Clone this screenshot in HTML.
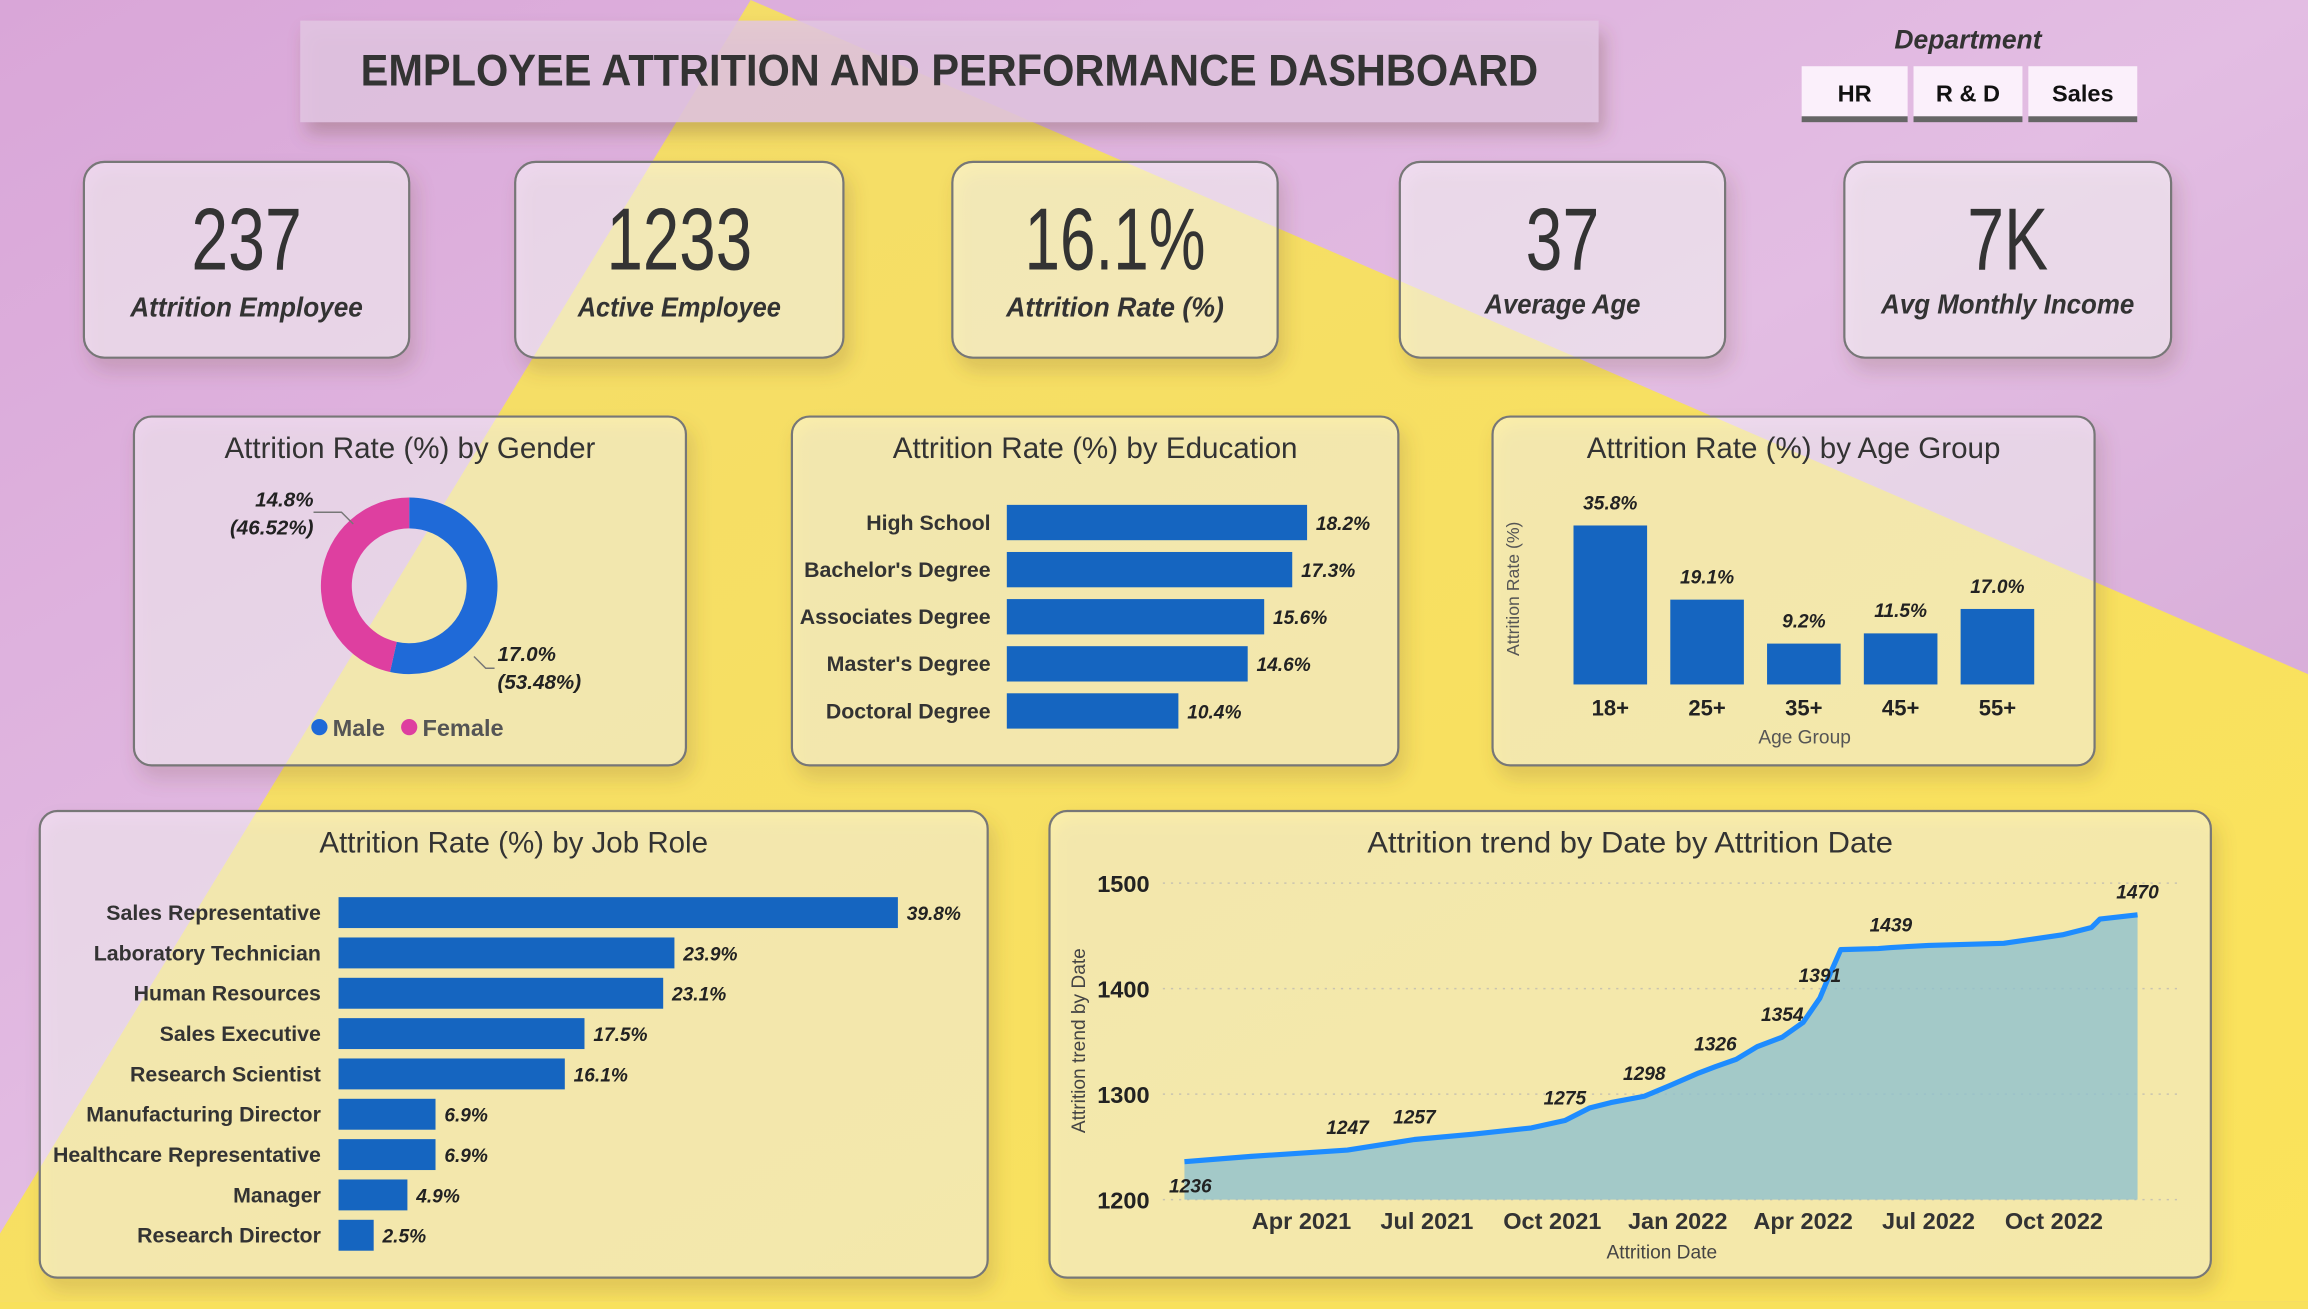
<!DOCTYPE html>
<html><head><meta charset="utf-8"><style>
html,body{margin:0;padding:0;width:2308px;height:1300px;overflow:hidden;background:#f8e15c}
#root{width:1568px;height:884px;transform:scale(1.471939);transform-origin:0 0;position:absolute;left:0;top:0}
svg text{font-family:"Liberation Sans Narrow","Liberation Sans",sans-serif}
</style></head><body>
<div id="root">
<svg id="svg" width="1568" height="884" viewBox="0 0 1568 884" xmlns="http://www.w3.org/2000/svg">
<defs>
<linearGradient id="pg" x1="0" y1="0" x2="1" y2="1"><stop offset="0" stop-color="#d9a6d8"/><stop offset="0.5" stop-color="#e3bde3"/><stop offset="1" stop-color="#cfa0d0"/></linearGradient>
<linearGradient id="yg" x1="0" y1="0" x2="1" y2="1"><stop offset="0" stop-color="#f3dc6a"/><stop offset="1" stop-color="#fbe35a"/></linearGradient>
<filter id="sh" x="-10%" y="-10%" width="130%" height="140%"><feDropShadow dx="4" dy="8" stdDeviation="6" flood-color="#6a4a30" flood-opacity="0.35"/></filter>
</defs>
<rect width="1568" height="884" fill="url(#pg)"/>
<polygon points="510,0 1568,458 1568,884 0,884 0,838" fill="url(#yg)"/>

<g>
<rect x="204" y="14" width="882" height="69" fill="#e2c6e2" fill-opacity="0.85" filter="url(#sh)"/>
<text x="645" y="58" text-anchor="middle" font-size="30" font-weight="bold" fill="#333" textLength="800" lengthAdjust="spacingAndGlyphs">EMPLOYEE ATTRITION AND PERFORMANCE DASHBOARD</text>
</g>

<g>
<text x="1337" y="33" text-anchor="middle" font-size="18" font-style="italic" font-weight="bold" fill="#333">Department</text>
<g><rect x="1224" y="45" width="72" height="37" fill="#fbf0fb"/><rect x="1224" y="79" width="72" height="4" fill="#666"/><text x="1260" y="69" text-anchor="middle" font-size="16" font-weight="bold" fill="#111">HR</text></g>
<g><rect x="1300" y="45" width="74" height="37" fill="#fbf0fb"/><rect x="1300" y="79" width="74" height="4" fill="#666"/><text x="1337" y="69" text-anchor="middle" font-size="16" font-weight="bold" fill="#111">R &amp; D</text></g>
<g><rect x="1378" y="45" width="74" height="37" fill="#fbf0fb"/><rect x="1378" y="79" width="74" height="4" fill="#666"/><text x="1415" y="69" text-anchor="middle" font-size="16" font-weight="bold" fill="#111">Sales</text></g>
</g>

<g id="kpis"></g>
<g id="cards"></g>
<g id="gender"></g>
<g id="edu"></g>
<g id="age"></g>
<g id="job"></g>
<g id="trend"></g>
</svg>
</div>
<script>
const NS='http://www.w3.org/2000/svg';
function mk(parent,tag,attrs,txt){const e=document.createElementNS(NS,tag);for(const k in attrs)e.setAttribute(k,attrs[k]);if(txt!==undefined)e.textContent=txt;parent.appendChild(e);return e;}

// KPI data
const kpiValues=['237','1233','16.1%','37','7K'];
const kpiLabels=['Attrition Employee','Active Employee','Attrition Rate (%)','Average Age','Avg Monthly Income'];
// Gender data
const genderCats=['Male','Female'];
const genderRates=[17.0,14.8];
const genderShares=[53.48,46.52];
// Education data
const eduCats=['High School',"Bachelor's Degree",'Associates Degree',"Master's Degree",'Doctoral Degree'];
const eduVals=[18.2,17.3,15.6,14.6,10.4];
// Age data
const ageCats=['18+','25+','35+','45+','55+'];
const ageVals=[35.8,19.1,9.2,11.5,17.0];
// Job role data
const jobCats=['Sales Representative','Laboratory Technician','Human Resources','Sales Executive','Research Scientist','Manufacturing Director','Healthcare Representative','Manager','Research Director'];
const jobVals=[39.8,23.9,23.1,17.5,16.1,6.9,6.9,4.9,2.5];
// Trend data (t = months since Jan 2021)
const trendT=[0.2,1.8,4.1,5.7,7.1,8.5,9.3,9.9,10.4,11.2,11.8,12.5,12.9,13.4,13.9,14.5,15.0,15.4,15.6,15.9,16.8,17.1,18,19.8,21.2,21.9,22.1,23];
const trendV=[1236,1241,1247,1257,1262,1268,1275,1287,1292,1298,1308,1320,1326,1333,1345,1354,1368,1391,1410,1437,1438,1439,1441,1443,1451,1458,1466,1470];
const trendLabelIdx=[0,2,3,6,9,12,15,17,21,27];
const trendYTicks=[1200,1300,1400,1500];
const trendXTickT=[3,6,9,12,15,18,21];
const trendXTickLabels=['Apr 2021','Jul 2021','Oct 2021','Jan 2022','Apr 2022','Jul 2022','Oct 2022'];

const kg=document.getElementById('kpis');
const kpiBox=[[57,221],[350,223],[647,221],[951,221],[1253,222]];
const kpiValW=[75,99,123,50,55];
const kpiLabW=[158,138,148,106,172];
kpiValues.forEach((v,i)=>{
  const g=mk(kg,'g',{});
  
  
  const [x,w]=kpiBox[i];
  mk(g,'rect',{x:x,y:110,width:w,height:133,rx:14,fill:'#ffffff','fill-opacity':0.5,stroke:'#777','stroke-width':1.5,filter:'url(#sh)'});
  const t=mk(g,'text',{x:x+w/2,y:183,'text-anchor':'middle','font-size':60,fill:'#333',textLength:kpiValW[i],lengthAdjust:'spacingAndGlyphs'},v);
  
  
  const l=mk(g,'text',{x:x+w/2,y:(i>=3?213:215),'text-anchor':'middle','font-size':19,'font-style':'italic','font-weight':'bold',fill:'#333',textLength:kpiLabW[i],lengthAdjust:'spacingAndGlyphs'},kpiLabels[i]);
  
  
});

const cg=document.getElementById('cards');
const cards=[['gender-card',91,283,375,237,'Attrition Rate (%) by Gender',252],['education-card',538,283,412,237,'Attrition Rate (%) by Education',275],['age-group-card',1014,283,409,237,'Attrition Rate (%) by Age Group',281],['job-role-card',27,551,644,317,'Attrition Rate (%) by Job Role',264],['trend-card',713,551,789,317,'Attrition trend by Date by Attrition Date',357]];
cards.forEach(c=>{
  const g=mk(cg,'g',{});
  
  
  mk(g,'rect',{x:c[1],y:c[2],width:c[3],height:c[4],rx:12,fill:'#ffffff','fill-opacity':0.45,stroke:'#777','stroke-width':1.5,filter:'url(#sh)'});
  const t=mk(g,'text',{x:c[1]+c[3]/2,y:c[2]+28,'text-anchor':'middle','font-size':20,fill:'#333',textLength:c[6],lengthAdjust:'spacingAndGlyphs'},c[5]);
  
  
});

(function(){
  const g=document.getElementById('gender');
  const cx=278,cy=398,R=60,r=39;
  const cols=['#1f6ad8','#de3fa0'];
  let a0=0;const tot=genderShares.reduce((a,b)=>a+b,0);
  genderShares.forEach((s,i)=>{
    const a1=a0+s/tot*Math.PI*2;
    const p=(a,rad)=>[cx+rad*Math.sin(a),cy-rad*Math.cos(a)];
    const large=(a1-a0)>Math.PI?1:0;
    const [x1,y1]=p(a0,R),[x2,y2]=p(a1,R),[x3,y3]=p(a1,r),[x4,y4]=p(a0,r);
    const e=mk(g,'path',{d:`M${x1},${y1}A${R},${R} 0 ${large} 1 ${x2},${y2}L${x3},${y3}A${r},${r} 0 ${large} 0 ${x4},${y4}Z`,fill:cols[i]});
    
    
    a0=a1;
  });
  mk(g,'polyline',{points:'213,348 232,348 240,356',fill:'none',stroke:'#777'});
  mk(g,'polyline',{points:'322,446 330,454 336,454',fill:'none',stroke:'#777'});
  const lab=(x,y,anc,t1,t2,n)=>{const t=mk(g,'text',{x:x,y:y,'text-anchor':anc,'font-size':14,'font-style':'italic','font-weight':'bold',fill:'#222'});mk(t,'tspan',{x:x,dy:0},t1);mk(t,'tspan',{x:x,dy:19},t2);};
  lab(213,344,'end',genderRates[1].toFixed(1)+'%','('+genderShares[1].toFixed(2)+'%)','female-label');
  lab(338,449,'start',genderRates[0].toFixed(1)+'%','('+genderShares[0].toFixed(2)+'%)','male-label');
  const lg=mk(g,'g',{});
  
  
  mk(lg,'circle',{cx:217,cy:494,r:5.5,fill:cols[0]});
  mk(lg,'text',{x:226,y:500,'font-size':16,'font-weight':'bold',fill:'#555'},genderCats[0]);
  mk(lg,'circle',{cx:278,cy:494,r:5.5,fill:cols[1]});
  mk(lg,'text',{x:287,y:500,'font-size':16,'font-weight':'bold',fill:'#555'},genderCats[1]);
})();

(function(){
  const g=document.getElementById('edu');
  const x0=684,k=204/18.2,yc=i=>355+i*32;
  eduCats.forEach((c,i)=>{
    const t=mk(g,'text',{x:673,y:yc(i)+5,'text-anchor':'end','font-size':14.5,'font-weight':'bold',fill:'#333'},c);
    
    
    const w=eduVals[i]*k;
    const b=mk(g,'rect',{x:x0,y:yc(i)-12,width:w,height:24,fill:'#1565c0'});
    
    
    const v=mk(g,'text',{x:x0+w+6,y:yc(i)+5,'font-size':13,'font-style':'italic','font-weight':'bold',fill:'#222'},eduVals[i].toFixed(1)+'%');
    
    
  });
})();

(function(){
  const g=document.getElementById('age');
  const base=465,k=108/35.8,xc=i=>1094+i*65.75,bw=50;
  ageCats.forEach((c,i)=>{
    const h=ageVals[i]*k;
    const b=mk(g,'rect',{x:xc(i)-bw/2,y:base-h,width:bw,height:h,fill:'#1565c0'});
    
    
    const v=mk(g,'text',{x:xc(i),y:base-h-11,'text-anchor':'middle','font-size':13,'font-style':'italic','font-weight':'bold',fill:'#222'},ageVals[i].toFixed(1)+'%');
    
    
    const t=mk(g,'text',{x:xc(i),y:486,'text-anchor':'middle','font-size':15,'font-weight':'bold',fill:'#222'},c);
    
    
  });
  const xt=mk(g,'text',{x:1226,y:505,'text-anchor':'middle','font-size':13,fill:'#555'},'Age Group');
  
  
  const yt=mk(g,'text',{x:0,y:0,'text-anchor':'middle','font-size':12,fill:'#555',transform:'translate(1032,400) rotate(-90)'},'Attrition Rate (%)');
  
  
})();

(function(){
  const g=document.getElementById('job');
  const x0=230,k=380/39.8,yc=i=>620+i*27.4;
  jobCats.forEach((c,i)=>{
    const t=mk(g,'text',{x:218,y:yc(i)+5,'text-anchor':'end','font-size':14.5,'font-weight':'bold',fill:'#333'},c);
    
    
    const w=jobVals[i]*k;
    const b=mk(g,'rect',{x:x0,y:yc(i)-10.5,width:w,height:21,fill:'#1565c0'});
    
    
    const v=mk(g,'text',{x:x0+w+6,y:yc(i)+5,'font-size':13,'font-style':'italic','font-weight':'bold',fill:'#222'},jobVals[i].toFixed(1)+'%');
    
    
  });
})();

(function(){
  const g=document.getElementById('trend');
  const X=t=>799+t*28.4, Y=v=>815-(v-1200)*(215/300);
  trendYTicks.forEach(v=>{
    mk(g,'line',{x1:790,x2:1480,y1:Y(v),y2:Y(v),stroke:'#c9c3b0','stroke-dasharray':'1.5 4','stroke-width':1});
    const t=mk(g,'text',{x:781,y:Y(v)+6,'text-anchor':'end','font-size':16,'font-weight':'bold',fill:'#222'},String(v));
    
    
  });
  trendXTickT.forEach((t,i)=>{
    const e=mk(g,'text',{x:X(t),y:835,'text-anchor':'middle','font-size':16,'font-weight':'bold',fill:'#333'},trendXTickLabels[i]);
    
    
  });
  let d='M'+X(trendT[0])+','+Y(1200);
  let l='';
  trendT.forEach((t,i)=>{d+='L'+X(t)+','+Y(trendV[i]);l+=(i?'L':'M')+X(t)+','+Y(trendV[i]);});
  d+='L'+X(trendT[trendT.length-1])+','+Y(1200)+'Z';
  const a=mk(g,'path',{d:d,fill:'#8fc0cf','fill-opacity':0.8});
  
  
  const ln=mk(g,'path',{d:l,fill:'none',stroke:'#1e8cff','stroke-width':3.5,'stroke-linejoin':'round'});
  
  
  trendLabelIdx.forEach(i=>{
    const below=(i===0);
    const e=mk(g,'text',{x:X(trendT[i])+(below?4:0),y:below?Y(trendV[i])+21:Y(trendV[i])-11,'text-anchor':'middle','font-size':13,'font-style':'italic','font-weight':'bold',fill:'#222'},String(trendV[i]));
    
    
  });
  const yt=mk(g,'text',{x:0,y:0,'text-anchor':'middle','font-size':13,fill:'#444',transform:'translate(737,707) rotate(-90)'},'Attrition trend by Date');
  
  
  const xt=mk(g,'text',{x:1129,y:855,'text-anchor':'middle','font-size':13,fill:'#444'},'Attrition Date');
  
  
})();
</script>
</body></html>
